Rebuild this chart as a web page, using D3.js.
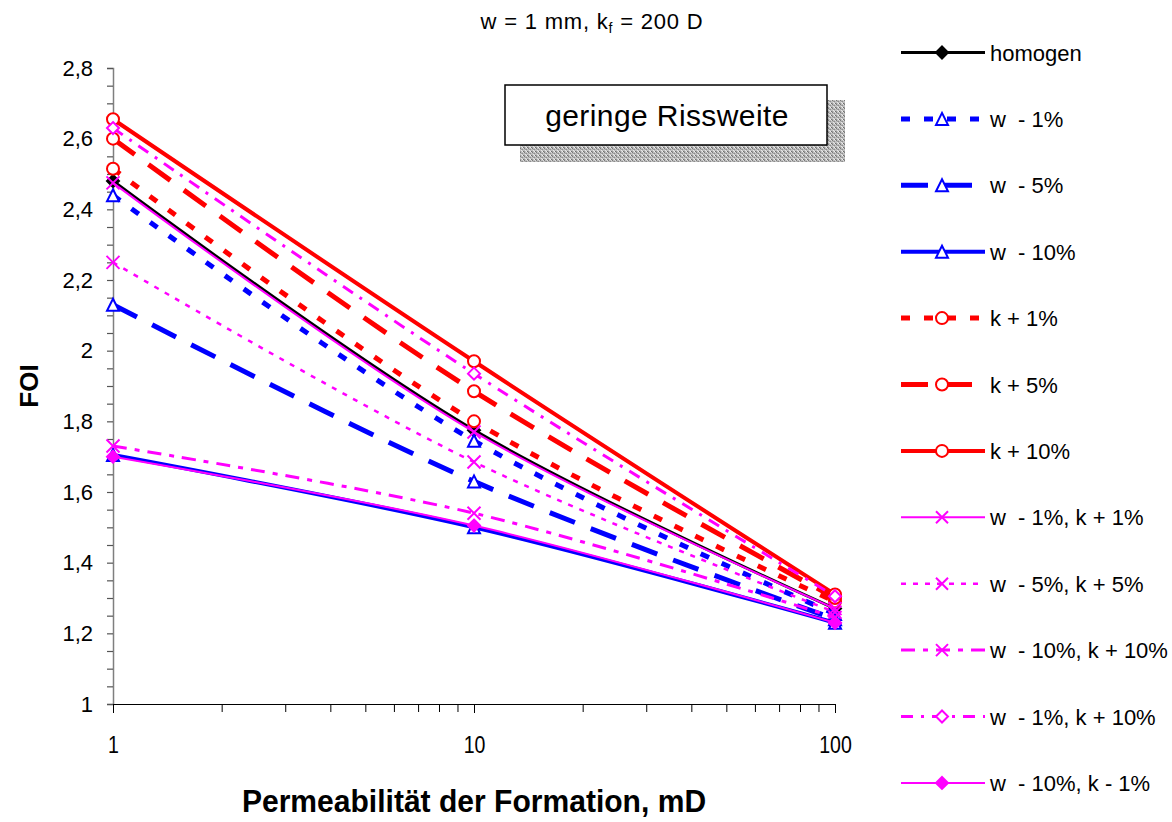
<!DOCTYPE html>
<html>
<head>
<meta charset="utf-8">
<script src="https://cdn.jsdelivr.net/npm/d3@7"></script>
<style>
  body { margin: 0; background: #fff; }
  svg { display: block; font-family: "Liberation Sans", Arial, sans-serif; }
</style>
</head>
<body>
<svg id="chart" width="1172" height="822"></svg>
<script>
// Formation permeability (mD)
const permeability = [1, 10, 100];

// FOI per scenario
const homogen   = [2.48, 1.775, 1.27];
const w1        = [2.44, 1.745, 1.255];
const w5        = [2.13, 1.63, 1.24];
const w10       = [1.705, 1.50, 1.23];
const k1        = [2.515, 1.80, 1.29];
const k5        = [2.60, 1.885, 1.30];
const k10       = [2.655, 1.97, 1.31];
const w1k1      = [2.475, 1.77, 1.27];
const w5k5      = [2.25, 1.685, 1.26];
const w10k10    = [1.73, 1.54, 1.245];
const w1k10     = [2.63, 1.935, 1.305];
const w10km1    = [1.70, 1.505, 1.23];

const seriesNames = [
  "homogen", "w  - 1%", "w  - 5%", "w  - 10%", "k + 1%", "k + 5%", "k + 10%",
  "w  - 1%, k + 1%", "w  - 5%, k + 5%", "w  - 10%, k + 10%", "w  - 1%, k + 10%", "w  - 10%, k - 1%"
];
const seriesValues = [homogen, w1, w5, w10, k1, k5, k10, w1k1, w5k5, w10k10, w1k10, w10km1];

const yTicks = d3.range(0, 37).map(i => +(1 + i * 0.05).toFixed(2));
const xMinorTicks = [2,3,4,5,6,7,8,9,20,30,40,50,60,70,80,90];
const xMajorTicks = [1, 10, 100];

// Line and marker styles for each scenario
const styles = [
  { color: "#000000", width: 3,   dash: null,        marker: "diamondFilled" },
  { color: "#0000ff", width: 5,   dash: "9,14",      marker: "triangle" },
  { color: "#0000ff", width: 5,   dash: "27,17",     marker: "triangle" },
  { color: "#0000ff", width: 4,   dash: null,        marker: "triangle" },
  { color: "#ff0000", width: 5,   dash: "9,14",      marker: "circle" },
  { color: "#ff0000", width: 5,   dash: "27,17",     marker: "circle" },
  { color: "#ff0000", width: 4,   dash: null,        marker: "circle" },
  { color: "#ff00ff", width: 2,   dash: null,        marker: "x" },
  { color: "#ff00ff", width: 2.5, dash: "5,7",       marker: "x" },
  { color: "#ff00ff", width: 3,   dash: "14,8,5,8",  marker: "x" },
  { color: "#ff00ff", width: 3,   dash: "12,8,3,8",  marker: "diamond" },
  { color: "#ff00ff", width: 2,   dash: null,        marker: "diamondFilled" }
];

const svg = d3.select("#chart");

const x = d3.scaleLog().domain([1, 100]).range([113, 835]);
const y = d3.scaleLinear().domain([1, 2.8]).range([704, 68]);

// Stippled fill for the label box shadow
const defs = svg.append("defs");
const pat = defs.append("pattern")
  .attr("id", "stipple").attr("patternUnits", "userSpaceOnUse")
  .attr("width", 4).attr("height", 4);
pat.append("rect").attr("width", 4).attr("height", 4).attr("fill", "#bdbdbd");
[[0,0,"#7a7a7a"],[2,1,"#8c8c8c"],[1,2,"#e6e6e6"],[3,3,"#6e6e6e"],[3,0,"#d8d8d8"],[0,3,"#9a9a9a"],[2,3,"#f0f0f0"],[1,1,"#a0a0a0"]]
  .forEach(([px, py, c]) => pat.append("rect").attr("x", px).attr("y", py).attr("width", 1).attr("height", 1).attr("fill", c));

// Title
const title = svg.append("text").attr("x", 592).attr("y", 29)
  .attr("text-anchor", "middle").attr("font-size", 22).attr("letter-spacing", 0.8).attr("fill", "#000");
title.append("tspan").text("w = 1 mm, k");
title.append("tspan").attr("font-size", 14).attr("dy", 4).text("f");
title.append("tspan").attr("dy", -4).text(" = 200 D");

// Y axis
const yAxis = d3.axisLeft(y).tickValues(yTicks).tickSize(6).tickPadding(14)
  .tickFormat(d => (Math.round(d * 100) % 20 === 0) ? d3.format("")(+d.toFixed(1)).replace(".", ",") : "");
const gy = svg.append("g").attr("transform", "translate(113,0)").call(yAxis);
gy.select(".domain").attr("stroke", "#7f7f7f").attr("stroke-width", 1.5);
gy.selectAll(".tick line").attr("stroke", "#555").attr("stroke-width", 1.2);
gy.selectAll(".tick text").attr("font-size", 22).attr("font-family", "Liberation Sans, Arial, sans-serif").attr("fill", "#000");

// X axis
const gx = svg.append("g").attr("transform", "translate(0,704)");
gx.append("g").call(d3.axisBottom(x).tickValues(xMinorTicks).tickSize(8).tickFormat(""))
  .call(g => g.select(".domain").remove())
  .call(g => g.selectAll(".tick line").attr("stroke", "#000").attr("stroke-width", 1));
gx.append("g").call(d3.axisBottom(x).tickValues(xMajorTicks).tickSize(9).tickSizeOuter(0).tickPadding(24).tickFormat(d3.format("d")))
  .call(g => g.select(".domain").attr("stroke", "#000").attr("stroke-width", 1.2))
  .call(g => g.selectAll(".tick line").attr("stroke", "#000").attr("stroke-width", 1))
  .call(g => g.selectAll(".tick text").attr("font-size", 23).attr("transform", "scale(0.85,1)")
    .attr("font-family", "Liberation Sans, Arial, sans-serif").attr("fill", "#000"));

// Axis titles
svg.append("text").attr("transform", "translate(474,812) scale(0.97,1)").attr("text-anchor", "middle")
  .attr("font-size", 31).attr("font-weight", "bold").text("Permeabilität der Formation, mD");
svg.append("text").attr("transform", "translate(38,386) rotate(-90)").attr("text-anchor", "middle")
  .attr("font-size", 26).attr("font-weight", "bold").text("FOI");

// Label box with shadow
svg.append("rect").attr("x", 520).attr("y", 100).attr("width", 325).attr("height", 62).attr("fill", "url(#stipple)");
svg.append("rect").attr("x", 505).attr("y", 85).attr("width", 322).attr("height", 60)
  .attr("fill", "#fff").attr("stroke", "#000").attr("stroke-width", 1.5);
svg.append("text").attr("x", 667).attr("y", 126).attr("text-anchor", "middle")
  .attr("font-size", 30).attr("letter-spacing", 0.4).text("geringe Rissweite");

// Marker drawing
function drawMarker(g, type, color, cx, cy, s) {
  const h = s / 2;
  if (type === "diamondFilled" || type === "diamond") {
    g.append("path").attr("d", `M${cx},${cy - h}L${cx + h},${cy}L${cx},${cy + h}L${cx - h},${cy}Z`)
      .attr("fill", type === "diamondFilled" ? color : "#fff").attr("stroke", color).attr("stroke-width", 2);
  } else if (type === "triangle") {
    g.append("path").attr("d", `M${cx},${cy - h}L${cx + h},${cy + h}L${cx - h},${cy + h}Z`)
      .attr("fill", "#fff").attr("stroke", color).attr("stroke-width", 2);
  } else if (type === "circle") {
    g.append("circle").attr("cx", cx).attr("cy", cy).attr("r", h)
      .attr("fill", "#fff").attr("stroke", color).attr("stroke-width", 2);
  } else if (type === "x") {
    g.append("path").attr("d", `M${cx - h},${cy - h}L${cx + h},${cy + h}M${cx - h},${cy + h}L${cx + h},${cy - h}`)
      .attr("fill", "none").attr("stroke", color).attr("stroke-width", 2);
  }
}

// Series
const line = d3.line().x(d => x(d[0])).y(d => y(d[1])).curve(d3.curveCatmullRom);
const plot = svg.append("g");
seriesValues.forEach((vals, i) => {
  const st = styles[i];
  const pts = permeability.map((p, j) => [p, vals[j]]);
  const g = plot.append("g");
  g.append("path").datum(pts).attr("d", line)
    .attr("fill", "none").attr("stroke", st.color).attr("stroke-width", st.width)
    .attr("stroke-dasharray", st.dash).attr("stroke-linejoin", "round");
  const msize = st.marker === "x" ? 13 : 12;
  pts.forEach(p => drawMarker(g, st.marker, st.color, x(p[0]), y(p[1]), msize));
});

// Legend
const legend = svg.append("g");
seriesNames.forEach((name, i) => {
  const st = styles[i];
  const ly = 52.5 + i * 66.4;
  const g = legend.append("g");
  g.append("line").attr("x1", 901).attr("x2", 985).attr("y1", ly).attr("y2", ly)
    .attr("stroke", st.color).attr("stroke-width", st.width).attr("stroke-dasharray", st.dash);
  drawMarker(g, st.marker, st.color, 942, ly, 12);
  g.append("text").attr("x", 990).attr("y", ly + 8).attr("font-size", 22).attr("fill", "#000")
    .attr("xml:space", "preserve").style("white-space", "pre").text(name);
});
</script>
</body>
</html>
